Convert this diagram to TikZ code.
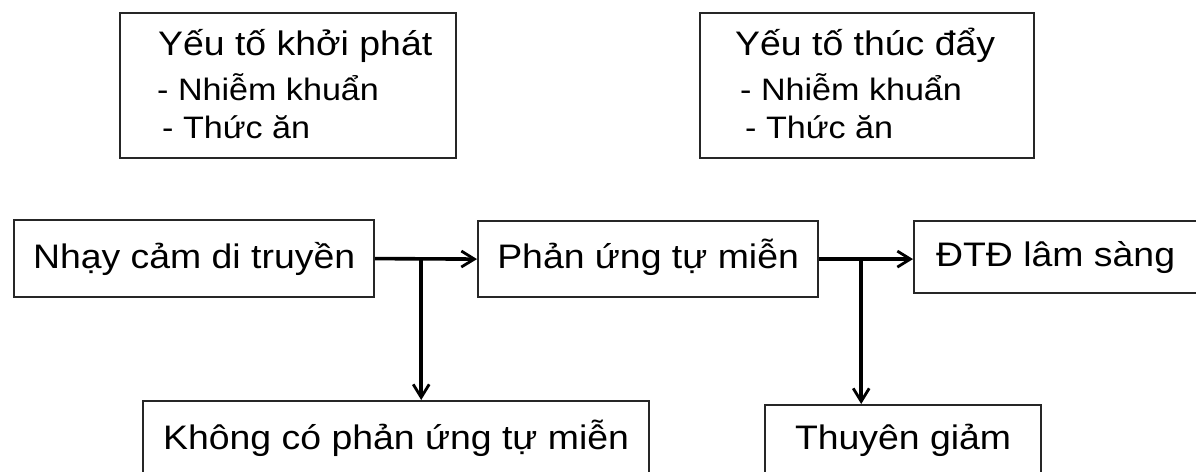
\documentclass[tikz,border=0pt]{standalone}
\usepackage{fontspec}
\setmainfont{Liberation Sans}[FakeStretch=1.1]
\usetikzlibrary{arrows.meta}
\begin{document}
\begin{tikzpicture}[x=1pt,y=-1pt,
  box/.style={draw=black!85, line width=2.2pt, inner sep=0pt, anchor=north west},
  big/.style={font=\fontsize{34}{40}\selectfont},
  mid/.style={text height=26pt, text depth=7pt},
  small/.style={font=\fontsize{31}{36}\selectfont},
  txt/.style={anchor=base west, inner sep=0pt},
  conn/.style={line width=3.6pt, -{Straight Barb[length=13pt,width=16pt,line width=2.8pt]}}
]
\useasboundingbox (0,0) rectangle (1196,471);
% top boxes
\node[box, minimum width=336pt, minimum height=145pt] (kp) at (119,12) {};
\node[txt, big] (kp1) at (158,55) {Yếu tố khởi phát};
\node[txt, small] (kp2) at (157,100) {- Nhiễm khuẩn};
\node[txt, small] (kp3) at (162,138) {- Thức ăn};
\node[box, minimum width=334pt, minimum height=145pt] (td) at (699,12) {};
\node[txt, big] (td1) at (735,55) {Yếu tố thúc đẩy};
\node[txt, small] (td2) at (740,100) {- Nhiễm khuẩn};
\node[txt, small] (td3) at (745,138) {- Thức ăn};
% middle row
\node[box, big, mid, minimum width=360pt, minimum height=77pt] (nhay) at (13,219) {Nhạy cảm di truyền};
\node[box, big, mid, minimum width=340pt, minimum height=76pt] (phan) at (477,220) {Phản ứng tự miễn};
\node[box, big, mid, minimum width=283pt, minimum height=72pt] (dtd) at (913,220) {ĐTĐ lâm sàng};
% bottom row
\node[box, big, mid, minimum width=506pt, minimum height=78pt] (khong) at (142,400) {Không có phản ứng tự miễn};
\node[box, big, mid, minimum width=276pt, minimum height=70pt] (thuyen) at (764,404) {Thuyên giảm};
% connectors
\path (nhay.east) ++(46,0) coordinate (b1);
\path (phan.east) ++(42,0) coordinate (b2);
\draw[conn] (nhay.east) -- (phan.west);
\draw[conn] (b1) -- (b1 |- khong.north);
\draw[conn] (phan.east) -- (phan.east -| dtd.west);
\draw[conn] (b2) -- (b2 |- thuyen.north);
\end{tikzpicture}
\end{document}
